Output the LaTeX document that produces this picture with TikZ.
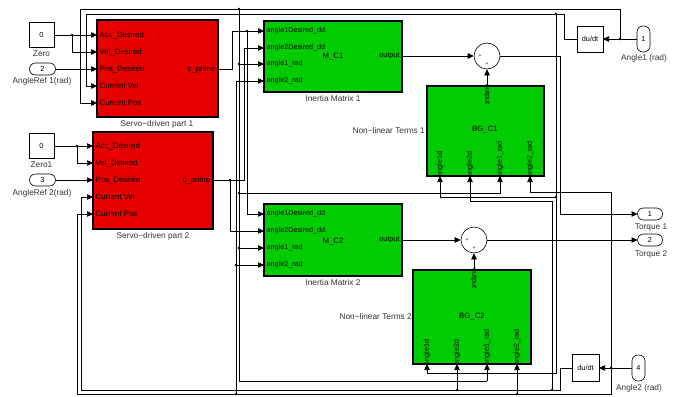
\documentclass[tikz,border=0pt]{standalone}
\usepackage{fontspec}
\setmainfont{Liberation Sans}
\usetikzlibrary{arrows.meta}
\definecolor{sred}{RGB}{230,0,0}
\definecolor{sgreen}{RGB}{0,204,0}
\begin{document}
\begin{tikzpicture}[x=1pt,y=-1pt,
  wire/.style={line width=0.6pt},
  arr/.style={wire,-{Triangle[length=6pt,width=5.5pt]}},
  blk/.style={draw, line width=1.5pt, inner sep=0pt, outer sep=0pt, anchor=north west},
  sblk/.style={draw, line width=0.6pt, inner sep=0pt, outer sep=0pt, fill=white, font=\fontsize{7.3}{8}\selectfont},
  portr/.style={inner sep=0.5pt, font=\fontsize{7.8}{8}\selectfont},
  portg/.style={inner sep=0.5pt, font=\fontsize{7.2}{7.5}\selectfont},
  lab/.style={inner sep=0pt, font=\fontsize{8.3}{9}\selectfont, text=black!80},
  sgn/.style={inner sep=0pt, font=\fontsize{5}{5}\selectfont},
]
\useasboundingbox (0,0) rectangle (679,396);

% ---------- blocks ----------
\node[sblk, minimum width=25pt, minimum height=25pt] (zero1) at (41.5,35) {0};
\node[lab] (lzero1) at (41.5,54) {Zero};
\node[sblk, rounded corners=6pt, minimum width=26pt, minimum height=12pt] (aref1) at (42.5,69) {2};
\node[lab] (laref1) at (42,81) {AngleRef 1(rad)};
\node[sblk, minimum width=25pt, minimum height=25pt] (zero2) at (41.5,146) {0};
\node[lab] (lzero2) at (41.5,165) {Zero1};
\node[sblk, rounded corners=6pt, minimum width=26pt, minimum height=12pt] (aref2) at (42.5,180) {3};
\node[lab] (laref2) at (42,193) {AngleRef 2(rad)};

\node[blk, fill=sred, minimum width=121pt, minimum height=97pt] (servo1) at (97,20) {};
\node[lab] (lservo1) at (157,124) {Servo−driven part 1};
\node[blk, fill=sred, minimum width=120pt, minimum height=97pt] (servo2) at (93,132) {};
\node[lab] (lservo2) at (153,236) {Servo−driven part 2};

\node[blk, fill=sgreen, minimum width=138pt, minimum height=71pt] (mc1) at (264,21) {};
\node[lab] (lmc1) at (333,99) {Inertia Matrix 1};
\node[blk, fill=sgreen, minimum width=138pt, minimum height=72pt] (mc2) at (264,204) {};
\node[lab] (lmc2) at (333,283) {Inertia Matrix 2};

\node[blk, fill=sgreen, minimum width=117pt, minimum height=90pt] (bg1) at (427,86) {};
\node[lab, anchor=east] (lbg1) at (425,131) {Non−linear Terms 1};
\node[blk, fill=sgreen, minimum width=118pt, minimum height=94pt] (bg2) at (413,270) {};
\node[lab, anchor=east] (lbg2) at (412,317) {Non−linear Terms 2};

\node[draw, circle, line width=0.6pt, minimum size=26pt, inner sep=0pt, fill=white] (sum1) at (487,56) {};
\node[sgn] (sum1a) at (480,56) {+};
\node[sgn] (sum1b) at (487,64) {+};
\node[draw, circle, line width=0.6pt, minimum size=26pt, inner sep=0pt, fill=white] (sum2) at (474,240) {};
\node[sgn] (sum2a) at (467,240) {+};
\node[sgn] (sum2b) at (474,248) {+};

\node[sblk, minimum width=26pt, minimum height=26pt] (dudt1) at (590,39) {du/dt};
\node[sblk, minimum width=27pt, minimum height=27pt] (dudt2) at (585.5,368) {du/dt};
\node[sblk, rounded corners=6pt, minimum width=13pt, minimum height=26pt] (ang1) at (643.5,39) {1};
\node[lab] (lang1) at (644,58) {Angle1 (rad)};
\node[sblk, rounded corners=6pt, minimum width=13pt, minimum height=26pt] (ang2) at (638.5,368) {4};
\node[lab] (lang2) at (639,388) {Angle2 (rad)};
\node[sblk, rounded corners=6pt, minimum width=25pt, minimum height=12pt] (tq1) at (650,214) {1};
\node[lab] (ltq1) at (651,228) {Torque 1};
\node[sblk, rounded corners=6pt, minimum width=25pt, minimum height=12pt] (tq2) at (650,240) {2};
\node[lab] (ltq2) at (651,254) {Torque 2};

% ---------- port coordinates ----------
\coordinate (s1a) at (97,35);  \coordinate (s1v) at (97,52);  \coordinate (s1p) at (97,69);
\coordinate (s1cv) at (97,86); \coordinate (s1cp) at (97,103); \coordinate (s1o) at (218,69);
\coordinate (s2a) at (93,146); \coordinate (s2v) at (93,163); \coordinate (s2p) at (93,180);
\coordinate (s2cv) at (93,197); \coordinate (s2cp) at (93,214); \coordinate (s2o) at (213,180);
\coordinate (m1a) at (264,31); \coordinate (m1b) at (264,48); \coordinate (m1c) at (264,64);
\coordinate (m1d) at (264,81); \coordinate (m1o) at (402,56);
\coordinate (m2a) at (264,214); \coordinate (m2b) at (264,231); \coordinate (m2c) at (264,248);
\coordinate (m2d) at (264,265); \coordinate (m2o) at (402,240);
\coordinate (b1a) at (440,176); \coordinate (b1b) at (470,176); \coordinate (b1c) at (500,176);
\coordinate (b1d) at (530,176); \coordinate (b1o) at (487,86);
\coordinate (b2a) at (427,364); \coordinate (b2b) at (457,364); \coordinate (b2c) at (487,364);
\coordinate (b2d) at (517,364); \coordinate (b2o) at (474,270);

% ---------- port labels ----------
\foreach \c/\t [count=\i] in {s1a/Acc\_Desired, s1v/Vel\_Desired, s1p/Pos\_Desired, s1cv/Current Vel, s1cp/Current Pos,
  s2a/Acc\_Desired, s2v/Vel\_Desired, s2p/Pos\_Desired, s2cv/Current Vel, s2cp/Current Pos}
  \node[portr, anchor=west] (pl\i) at ([xshift=2pt]\c) {\t};
\node[portr, anchor=east] (pl11) at ([xshift=-2pt]s1o) {c\_prime};
\node[portr, anchor=east] (pl12) at ([xshift=-2pt]s2o) {c\_prime};

\foreach \c/\t [count=\i] in {m1a/angle1Desired\_dd, m1b/angle2Desired\_dd, m1c/angle1\_rad, m1d/angle2\_rad,
  m2a/angle1Desired\_dd, m2b/angle2Desired\_dd, m2c/angle1\_rad, m2d/angle2\_rad}
  \node[portg, anchor=west] (gl\i) at ([xshift=2pt]\c) {\t};
\node[portg, anchor=east] (mo1) at ([xshift=-2pt]m1o) {output};
\node[portg, anchor=east] (mo2) at ([xshift=-2pt]m2o) {output};
\node[portr] (mn1) at (333,57) {M\_C1};
\node[portr] (mn2) at (333,242) {M\_C2};

\foreach \c/\t [count=\i] in {b1a/angle1d, b1b/angle2d, b1c/angle1\_rad, b1d/angle2\_rad,
  b2a/angle1d, b2b/angle2d, b2c/angle1\_rad, b2d/angle2\_rad}
  \node[portg, rotate=90, anchor=west] (bl\i) at ([yshift=-2pt]\c) {\t};
\node[portg, rotate=-90, anchor=west] (bo1) at ([yshift=2pt]b1o) {output};
\node[portg, rotate=-90, anchor=west] (bo2) at ([yshift=2pt]b2o) {output};
\node[portr] (bn1) at (485,130) {BG\_C1};
\node[portr] (bn2) at (472,317) {BG\_C2};

% ---------- reference inputs ----------
\draw[arr] (zero1.east) -- (s1a);
\draw[wire] (72,35) -- (72,52); \draw[arr] (72,52) -- (s1v);
\draw[arr] (aref1.east) -- (s1p);
\draw[arr] (zero2.east) -- (s2a);
\draw[wire] (77,146) -- (77,163); \draw[arr] (77,163) -- (s2v);
\draw[arr] (aref2.east) -- (s2p);

% ---------- c_prime signals ----------
\draw[arr] (s1o) -- (232,69) -- (232,31) -- (m1a);
\draw[arr] (247,31) -- (247,214) -- (m2a);
\draw[arr] (s2o) -- (244,180) -- (244,48) -- (m1b);
\draw[arr] (230,180) -- (230,231) -- (m2b);

% ---------- angle 1 ----------
\draw[arr] (ang1.west) -- (dudt1.east);
\draw[arr] (620,39) -- (620,9) -- (80,9) -- (80,103) -- (s1cp);
\draw[wire] (239,9) -- (239,381) -- (487,381);
\draw[arr] (487,381) -- (b2c);
\draw[arr] (239,64) -- (m1c);
\draw[arr] (239,248) -- (m2c);
\draw[arr] (239,193) -- (500,193) -- (b1c);

% ---------- angle 1 dot ----------
\draw[arr] (dudt1.west) -- (564,39) -- (564,14) -- (86,14) -- (86,86) -- (s1cv);
\draw[arr] (556,14) -- (556,373) -- (427,373) -- (b2a);
\draw[arr] (556,197) -- (440,197) -- (b1a);

% ---------- angle 2 ----------
\draw[arr] (ang2.west) -- (dudt2.east);
\draw[arr] (611,368) -- (611,192) -- (530,192) -- (b1d);
\draw[arr] (611,368) -- (611,394) -- (77,394) -- (77,214) -- (s2cp);
\draw[arr] (517,394) -- (b2d);
\draw[arr] (236,394) -- (236,81) -- (m1d);
\draw[arr] (236,265) -- (m2d);

% ---------- angle 2 dot ----------
\draw[arr] (dudt2.west) -- (560,368) -- (560,390) -- (81,390) -- (81,197) -- (s2cv);
\draw[arr] (457,390) -- (b2b);
\draw[arr] (552,390) -- (552,201) -- (470,201) -- (b1b);

% ---------- sums and outputs ----------
\draw[arr] (m1o) -- (sum1.west);
\draw[arr] (b1o) -- (sum1.south);
\draw[arr] (sum1.east) -- (560,56) -- (560,214) -- (tq1.west);
\draw[arr] (m2o) -- (sum2.west);
\draw[arr] (b2o) -- (sum2.south);
\draw[arr] (sum2.east) -- (tq2.west);

% ---------- branch dots ----------
\foreach \p in {(72,35),(77,146),(247,31),(230,180),(620,39),(239,9),(239,64),(239,248),(239,193),
  (556,14),(556,197),(611,368),(517,394),(236,394),(236,265),(457,390),(552,390)}
  \fill \p circle (1.3);
\end{tikzpicture}
\end{document}
